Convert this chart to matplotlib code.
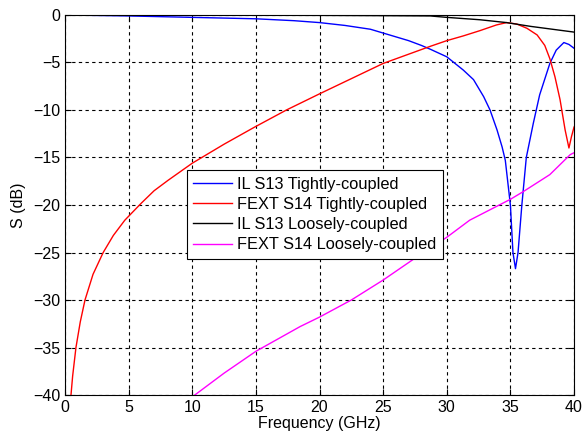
import matplotlib
matplotlib.use("Agg")
import matplotlib.pyplot as plt

plt.rcParams['font.family'] = ['Liberation Sans', 'DejaVu Sans']

# IL S13, tightly coupled
f_il_t = [0, 5, 10, 15, 18, 20, 22, 24, 25, 26, 27, 28, 28.7, 30, 31.3, 32.1, 32.9, 33.4,
          33.95, 34.35, 34.6, 35.0, 35.2, 35.4, 35.6, 35.9, 36.25, 36.8, 37.3, 38.1, 38.6,
          39.2, 39.6, 40]
s_il_t = [0, -0.1, -0.25, -0.4, -0.6, -0.8, -1.1, -1.5, -1.9, -2.3, -2.7, -3.2, -3.6, -4.4,
          -5.8, -6.8, -8.6, -10, -12.1, -13.9, -15.3, -20, -25, -26.7, -25, -20, -15, -11.4,
          -8.4, -5.1, -3.7, -2.9, -3.1, -3.5]

# FEXT S14, tightly coupled
f_fx_t = [0.47, 0.6, 0.86, 1.2, 1.57, 2.2, 3.0, 3.8, 4.7, 6, 7, 8.1, 10, 12.5, 14.9, 17.4,
          20, 22.5, 25, 28.7, 30, 31.3, 32.6, 33.9, 34.7, 35.5, 36.3, 37.1, 37.7, 38.1, 38.5,
          38.9, 39.3, 39.6, 39.8, 40]
s_fx_t = [-40, -38, -35, -32.3, -30, -27.3, -25, -23.2, -21.6, -19.8, -18.5, -17.4, -15.6,
          -13.6, -11.8, -10, -8.3, -6.7, -5.1, -3.3, -2.7, -2.2, -1.65, -1.05, -0.8, -0.95,
          -1.4, -2.1, -3.2, -4.6, -6.5, -8.9, -12.1, -14.0, -12.8, -11.8]

# IL S13, loosely coupled
f_il_l = [0, 10, 20, 25, 28.7, 30, 32.6, 34.7, 36.6, 40]
s_il_l = [0, -0.01, -0.04, -0.07, -0.1, -0.25, -0.5, -0.8, -1.2, -1.8]

# FEXT S14, loosely coupled
f_fx_l = [10.2, 12.5, 15, 18.47, 20, 22.5, 25, 27.5, 30, 31.8, 35, 36, 38.1, 39.7, 40]
s_fx_l = [-40, -37.7, -35.4, -32.8, -31.8, -30, -27.9, -25.6, -23.4, -21.6, -19.4, -18.6,
          -16.8, -14.7, -14.5]

fig = plt.figure(figsize=(5.82, 4.41), dpi=100)
ax = fig.add_axes([0.1117, 0.1043, 0.8746, 0.8617])

ax.plot(f_il_t, s_il_t, color='#0000ff', lw=1.0, label='IL S13 Tightly-coupled')
ax.plot(f_fx_t, s_fx_t, color='#ff0000', lw=1.0, label='FEXT S14 Tightly-coupled')
ax.plot(f_il_l, s_il_l, color='#000000', lw=1.0, label='IL S13 Loosely-coupled')
ax.plot(f_fx_l, s_fx_l, color='#ff00ff', lw=1.0, label='FEXT S14 Loosely-coupled')

ax.set_xlim(0, 40)
ax.set_ylim(-40, 0)
ax.set_xticks(range(0, 41, 5))
ax.set_yticks(range(-40, 1, 5))
ax.grid(True, color='black', linestyle=(0, (3, 3)), linewidth=0.8)
ax.tick_params(direction='in', top=True, right=True, length=4, labelsize=11.5)
for sp in ax.spines.values():
    sp.set_linewidth(0.8)

ax.set_xlabel('Frequency (GHz)', fontsize=11.5, labelpad=1)
ax.set_ylabel('S (dB)', fontsize=11.5, labelpad=5)

leg = ax.legend(loc='upper left', bbox_to_anchor=(0.239, 0.592), borderaxespad=0,
                fancybox=False, edgecolor='black', framealpha=1, fontsize=11.75,
                handlelength=2.4, handletextpad=0.3, labelspacing=0.32, borderpad=0.4)
leg.get_frame().set_linewidth(0.8)

fig.savefig('out.png', dpi=100)
